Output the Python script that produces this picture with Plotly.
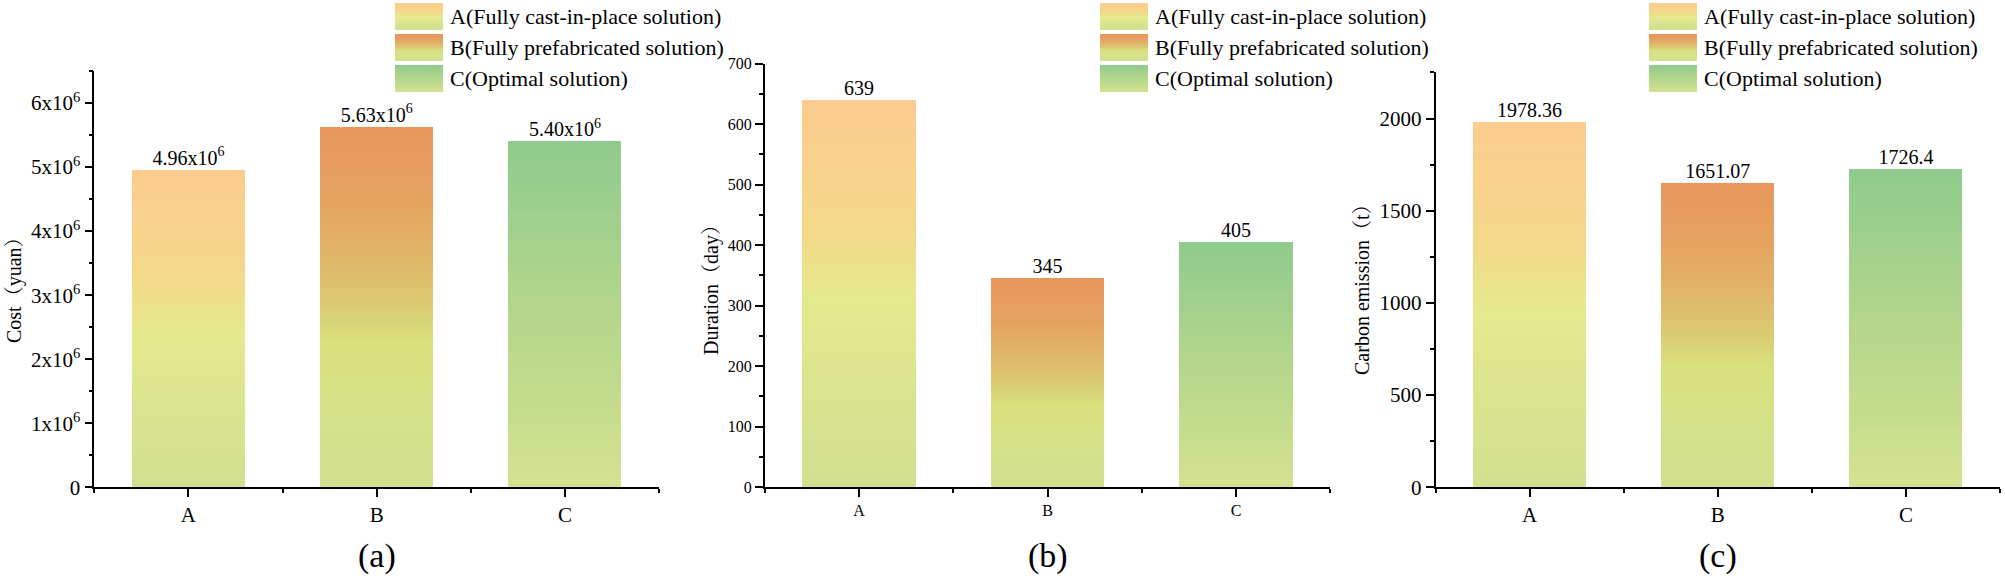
import plotly.graph_objects as go

W, H = 2005, 576
FONT = "Liberation Serif, Times New Roman, Noto Serif CJK SC, Noto Sans CJK SC, serif"

# ---------------- data ----------------
categories = ["A", "B", "C"]
legend_names = ["A(Fully cast-in-place solution)",
                "B(Fully prefabricated solution)",
                "C(Optimal solution)"]

cost_values = [4.96e6, 5.63e6, 5.40e6]
cost_labels = ["4.96x10<sup>6</sup>", "5.63x10<sup>6</sup>", "5.40x10<sup>6</sup>"]
cost_tickvals = [0, 1e6, 2e6, 3e6, 4e6, 5e6, 6e6]
cost_ticktext = ["0", "1x10<sup>6</sup>", "2x10<sup>6</sup>", "3x10<sup>6</sup>",
                 "4x10<sup>6</sup>", "5x10<sup>6</sup>", "6x10<sup>6</sup>"]

duration_values = [639, 345, 405]
duration_labels = ["639", "345", "405"]

carbon_values = [1978.36, 1651.07, 1726.4]
carbon_labels = ["1978.36", "1651.07", "1726.4"]

panel_letters = ["(a)", "(b)", "(c)"]
axis_titles = ["Cost（yuan）", "Duration（day）", "Carbon emission（t）"]

# ---------------- style ----------------
# vertical gradient stops (fraction of bar height from bottom, rgb)
grad_stops = {
    "A": [(0.0, (210, 224, 143)), (0.30, (220, 228, 142)), (0.48, (228, 234, 142)),
          (0.62, (240, 220, 138)), (0.80, (248, 210, 139)), (1.0, (252, 205, 142))],
    "B": [(0.0, (210, 224, 143)), (0.22, (213, 226, 136)), (0.40, (216, 225, 125)),
          (0.50, (218, 203, 115)), (0.62, (223, 184, 106)), (0.80, (229, 162, 96)),
          (1.0, (232, 151, 92))],
    "C": [(0.0, (212, 226, 144)), (0.5, (180, 214, 139)), (1.0, (143, 203, 140))],
}


def grad(stops, t):
    for (t0, c0), (t1, c1) in zip(stops[:-1], stops[1:]):
        if t <= t1:
            f = (t - t0) / (t1 - t0) if t1 > t0 else 0
            r, g, b = (round(a + (bb - a) * f) for a, bb in zip(c0, c1))
            return f"rgb({r},{g},{b})"
    r, g, b = stops[-1][1]
    return f"rgb({r},{g},{b})"


def px(x):
    return x / W


def py(y):
    return 1 - y / H


panels = [
    dict(values=cost_values, labels=cost_labels, xd=(94.3, 659.0), yd=(71.0, 487.3),
         yrange=[0, 6.5e6], tickvals=cost_tickvals, ticktext=cost_ticktext, minor=0.5e6,
         tickfont=21, xtickfont=21, title_xy=(14, 285), legend_x=395),
    dict(values=duration_values, labels=duration_labels, xd=(764.7, 1330.3), yd=(63.5, 487.3),
         yrange=[0, 700], dtick=100, minor=50,
         tickfont=16, xtickfont=16, title_xy=(711, 285), legend_x=1100),
    dict(values=carbon_values, labels=carbon_labels, xd=(1435.5, 2000.0), yd=(72.4, 487.3),
         yrange=[0, 2250], dtick=500, minor=250,
         tickfont=21, xtickfont=21, title_xy=(1362, 285), legend_x=1649),
]

N_SEG = 120
xs = list(range(len(categories)))

fig = go.Figure()
layout = dict(width=W, height=H, margin=dict(l=0, r=0, t=0, b=0), autosize=False,
              template="none", paper_bgcolor="white", plot_bgcolor="white",
              barmode="stack", showlegend=False, font=dict(family=FONT, color="black"))
annotations = []
shapes = []

for i, p in enumerate(panels):
    sx = "" if i == 0 else str(i + 1)
    xa, ya = "x" + sx, "y" + sx
    vals = p["values"]
    for k in range(N_SEG):
        t = (k + 0.5) / N_SEG
        fig.add_trace(go.Bar(
            x=xs, y=[v / N_SEG for v in vals], width=0.6,
            marker=dict(color=[grad(grad_stops[c], t) for c in categories], line=dict(width=0)),
            hoverinfo="skip", showlegend=False, xaxis=xa, yaxis=ya))
    fig.add_trace(go.Scatter(
        x=xs, y=vals, mode="text", text=p["labels"], textposition="top center",
        textfont=dict(size=20, color="black", family=FONT), cliponaxis=False,
        hoverinfo="skip", showlegend=False, xaxis=xa, yaxis=ya))

    layout["xaxis" + sx] = dict(
        domain=[px(p["xd"][0]), px(p["xd"][1])], anchor=ya, range=[-0.5, 2.5],
        tickmode="array", tickvals=xs, ticktext=categories,
        showline=True, linecolor="black", linewidth=1.5, mirror=False,
        ticks="outside", ticklen=8, tickwidth=1.5, tickcolor="black",
        minor=dict(tickmode="linear", tick0=0.5, dtick=1, ticks="outside", ticklen=4,
                   tickwidth=1.5, tickcolor="black", showgrid=False),
        showgrid=False, zeroline=False, tickfont=dict(size=p["xtickfont"], family=FONT),
        fixedrange=True)
    yax = dict(
        domain=[py(p["yd"][1]), py(p["yd"][0])], anchor=xa, range=p["yrange"],
        showline=True, linecolor="black", linewidth=1.5, mirror=False,
        ticks="outside", ticklen=8, tickwidth=1.5, tickcolor="black",
        minor=dict(dtick=p["minor"], ticks="outside", ticklen=4, tickwidth=1.5,
                   tickcolor="black", showgrid=False),
        showgrid=False, zeroline=False, tickfont=dict(size=p["tickfont"], family=FONT),
        fixedrange=True)
    if "tickvals" in p:
        yax.update(tickmode="array", tickvals=p["tickvals"], ticktext=p["ticktext"])
    else:
        yax.update(tickmode="linear", tick0=0, dtick=p["dtick"])
    layout["yaxis" + sx] = yax

    # axis title
    tx, ty = p["title_xy"]
    annotations.append(dict(x=px(tx), y=py(ty), xref="paper", yref="paper", text=axis_titles[i],
                            textangle=-90, showarrow=False, xanchor="center", yanchor="middle",
                            font=dict(size=20, family=FONT)))
    # panel letter
    annotations.append(dict(x=px((p["xd"][0] + p["xd"][1]) / 2), y=py(556), xref="paper", yref="paper",
                            text=panel_letters[i], showarrow=False, xanchor="center", yanchor="middle",
                            font=dict(size=34, family=FONT)))
    # legend (gradient swatches + labels)
    lx = p["legend_x"]
    for j, c in enumerate(categories):
        top = 3 + 31 * j
        hgt = 27
        nstrip = 27
        for s in range(nstrip):
            y0 = top + hgt * s / nstrip
            y1 = top + hgt * (s + 1) / nstrip
            t = 1 - (s + 0.5) / nstrip
            shapes.append(dict(type="rect", xref="paper", yref="paper",
                               x0=px(lx), x1=px(lx + 48), y0=py(y1), y1=py(y0),
                               fillcolor=grad(grad_stops[c], t), line=dict(width=0), layer="above"))
        annotations.append(dict(x=px(lx + 53), y=py(top + hgt / 2), xref="paper", yref="paper",
                                text=legend_names[j], showarrow=False, xanchor="left", yanchor="middle",
                                font=dict(size=22, family=FONT)))

layout["annotations"] = annotations
layout["shapes"] = shapes
fig.update_layout(**layout)

fig.write_html("out.html", config=dict(displayModeBar=False),
               post_script="document.body.style.margin='0';")
